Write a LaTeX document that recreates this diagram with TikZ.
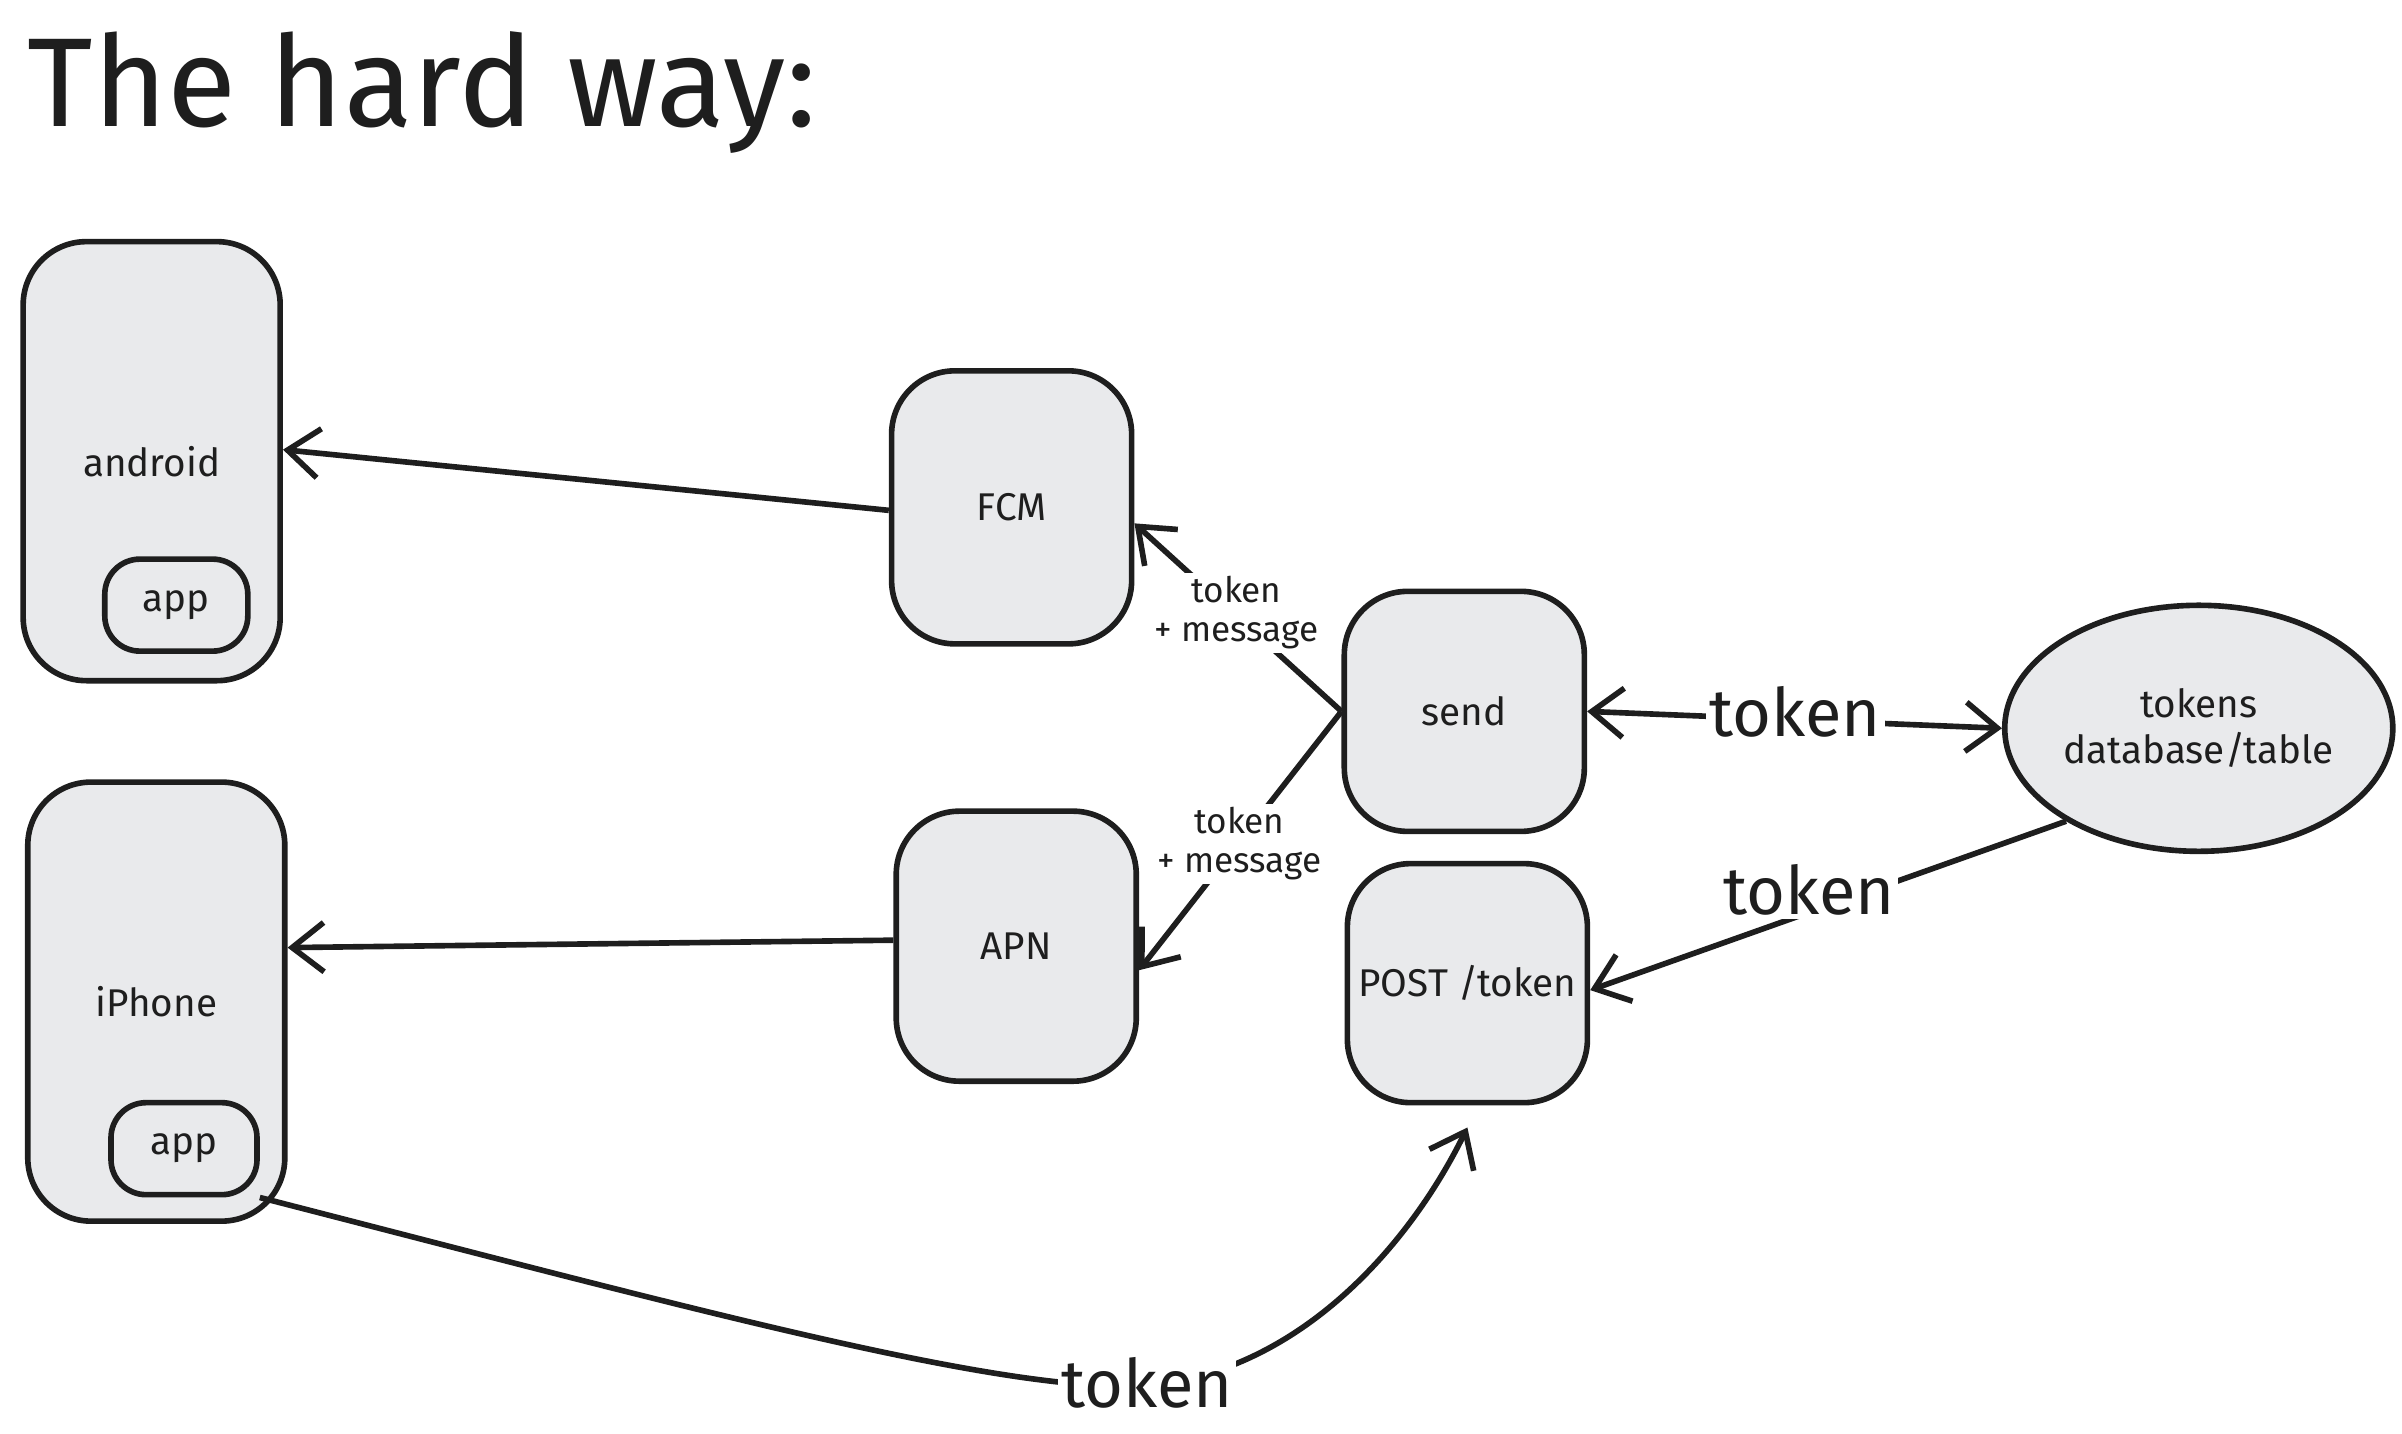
\documentclass[tikz,border=0pt]{standalone}
\usepackage{fontspec}
\setmainfont{Fira Sans}
\usetikzlibrary{shapes.geometric,arrows.meta}
\definecolor{boxfill}{HTML}{E9EAEC}
\definecolor{ink}{HTML}{1E1E1E}
\begin{document}
\begin{tikzpicture}[x=0.0154cm,y=-0.0154cm,
  box/.style={draw=ink,line width=1.6pt,fill=boxfill,rounded corners=18pt,font=\fontsize{11}{13}\selectfont,text=ink,inner sep=0pt},
  small/.style={font=\fontsize{10}{11}\selectfont,text=ink,align=center,fill=white,inner sep=1pt},
  big/.style={font=\fontsize{19}{21}\selectfont,text=ink,fill=white,inner sep=1pt},
  arr/.style={draw=ink,line width=1.6pt,-{Straight Barb[length=9pt,width=14pt]}}]
\useasboundingbox (0,0) rectangle (1560,931);
\node[anchor=west,font=\fontsize{36}{40}\selectfont,text=ink] (title) at (10,60) {The hard way:};
% boxes
\node[box,minimum width=2.57cm,minimum height=4.39cm] (android) at (98.5,299.5) {android};
\node[box,rounded corners=10pt,minimum width=1.43cm,minimum height=0.92cm] (aapp) at (114.5,393) {app};
\node[box,minimum width=2.57cm,minimum height=4.39cm] (iphone) at (101.5,650.5) {iPhone};
\node[box,rounded corners=10pt,minimum width=1.46cm,minimum height=0.92cm] (iapp) at (119.5,746) {app};
\node[box,minimum width=2.40cm,minimum height=2.73cm] (fcm) at (657,329.5) {FCM};
\node[box,minimum width=2.40cm,minimum height=2.70cm] (apn) at (660,614.5) {APN};
\node[box,minimum width=2.40cm,minimum height=2.40cm] (send) at (951,462) {send};
\node[box,minimum width=2.40cm,minimum height=2.39cm] (post) at (953,638.5) {POST /token};
\node[draw=ink,line width=1.6pt,fill=boxfill,ellipse,inner sep=0pt,minimum width=3.88cm,minimum height=2.46cm,align=center,font=\fontsize{11}{13}\selectfont,text=ink] (db) at (1428,473) {tokens\\database/table};
% arrows
\draw[arr] ([yshift=-0.03cm]fcm.west) -- ([yshift=0.115cm]android.east);
\draw[arr] ([yshift=0.06cm]apn.west) -- ([yshift=0.54cm]iphone.east);
\draw[arr] (send.west) -- ([yshift=-0.16cm]fcm.east);
\node[small] at (803,398) {token\\+ message};
\draw[arr] (send.west) -- ([yshift=-0.24cm]apn.east);
\node[small] at (805,548) {token\\+ message};
\draw[draw=ink,line width=1.6pt,{Straight Barb[length=9pt,width=14pt]}-{Straight Barb[length=9pt,width=14pt]}] (send.east) -- (db.west);
\node[big] at (1166,462) {token};
\draw[arr] (db.-145) -- ([yshift=-0.07cm]post.east);
\node[big] at (1175,578) {token};
\draw[arr] (iapp.south east) .. controls (450,850) and (650,905) .. (745,900) .. controls (850,890) and (920,800) .. ([yshift=-0.22cm]post.south);
\node[big] at (745,898) {token};
\end{tikzpicture}
\end{document}
